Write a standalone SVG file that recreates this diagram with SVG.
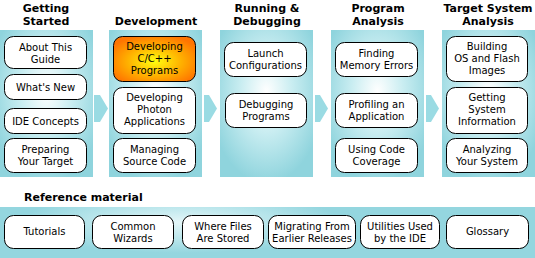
<svg xmlns="http://www.w3.org/2000/svg" width="535" height="258" viewBox="0 0 535 258">
<defs>
<radialGradient id="pg" cx="50%" cy="42%" r="62%">
<stop offset="0" stop-color="#ffffff"/>
<stop offset="0.45" stop-color="#c9edf1"/>
<stop offset="1" stop-color="#8fd4dd"/>
</radialGradient>
<radialGradient id="bg" cx="45%" cy="30%" r="60%" gradientTransform="translate(0.225 0.15) scale(0.5 1) translate(-0.225 -0.15)">
<stop offset="0" stop-color="#e4f6f8"/>
<stop offset="0.6" stop-color="#b5e4ea"/>
<stop offset="1" stop-color="#94d6df"/>
</radialGradient>
<radialGradient id="og" cx="50%" cy="55%" r="60%">
<stop offset="0" stop-color="#ffff10"/>
<stop offset="0.55" stop-color="#ffb000"/>
<stop offset="1" stop-color="#ff7400"/>
</radialGradient>
<style>
.panel{fill:url(#pg)}
.band{fill:url(#bg)}
.box{fill:#ffffff;stroke:#000000;stroke-width:1}
.hot{fill:url(#og);stroke:#000000;stroke-width:1}
.arrow{fill:#9adbe3}
text{font-family:"DejaVu Sans","Verdana",sans-serif;fill:#000000}
.hd{font-size:11px;font-weight:bold;text-anchor:middle}
.hl{font-size:11px;font-weight:bold}
.lb{font-size:10px;text-anchor:middle}
</style>
</defs>

<g id="headers">
<text class="hd" x="46" y="12">Getting</text>
<text class="hd" x="46" y="25">Started</text>
<text class="hd" x="156" y="25">Development</text>
<text class="hd" x="267" y="12">Running &amp;</text>
<text class="hd" x="267" y="25">Debugging</text>
<text class="hd" x="378" y="12">Program</text>
<text class="hd" x="378" y="25">Analysis</text>
<text class="hd" x="488" y="12">Target System</text>
<text class="hd" x="488" y="25">Analysis</text>
<text class="hl" x="24" y="201">Reference material</text>
</g>

<g id="panels">
<rect class="panel" x="0" y="30" width="93" height="147"/>
<rect class="panel" x="109" y="30" width="93" height="147"/>
<rect class="panel" x="220" y="30" width="93" height="147"/>
<rect class="panel" x="331" y="30" width="93" height="147"/>
<rect class="panel" x="442" y="30" width="93" height="147"/>
<rect class="band" x="0" y="207" width="535" height="51"/>
</g>

<g id="connectors">
<polygon class="arrow" points="94,95 100,95 108,108.5 100,122 94,122"/>
<polygon class="arrow" points="204,95 209,95 217,108.5 209,122 204,122"/>
<polygon class="arrow" points="315,95 320,95 328,108.5 320,122 315,122"/>
<polygon class="arrow" points="426,95 431,95 439,108.5 431,122 426,122"/>
</g>

<g id="n-about"><rect class="box" x="4.5" y="36.5" width="82" height="32" rx="9"/><text class="lb" x="45.5" y="51">About This</text><text class="lb" x="45.5" y="63">Guide</text></g>
<g id="n-whatsnew"><rect class="box" x="4.5" y="74.5" width="82" height="25" rx="9"/><text class="lb" x="45.5" y="91">What's New</text></g>
<g id="n-ide"><rect class="box" x="4.5" y="108.5" width="82" height="25" rx="9"/><text class="lb" x="45.5" y="125">IDE Concepts</text></g>
<g id="n-prep"><rect class="box" x="4.5" y="138.5" width="82" height="34" rx="9"/><text class="lb" x="45.5" y="153">Preparing</text><text class="lb" x="45.5" y="165">Your Target</text></g>

<g id="n-cpp"><rect class="hot" x="113.5" y="36.5" width="82" height="45" rx="9"/><text class="lb" x="154.5" y="50">Developing</text><text class="lb" x="154.5" y="62">C/C++</text><text class="lb" x="154.5" y="74">Programs</text></g>
<g id="n-photon"><rect class="box" x="113.5" y="87.5" width="82" height="46" rx="9"/><text class="lb" x="154.5" y="101">Developing</text><text class="lb" x="154.5" y="113">Photon</text><text class="lb" x="154.5" y="125">Applications</text></g>
<g id="n-source"><rect class="box" x="113.5" y="138.5" width="82" height="34" rx="9"/><text class="lb" x="154.5" y="153">Managing</text><text class="lb" x="154.5" y="165">Source Code</text></g>

<g id="n-launch"><rect class="box" x="224.5" y="42.5" width="82" height="34" rx="9"/><text class="lb" x="265.5" y="57">Launch</text><text class="lb" x="265.5" y="69">Configurations</text></g>
<g id="n-debug"><rect class="box" x="225.5" y="93.5" width="81" height="34" rx="9"/><text class="lb" x="266" y="108">Debugging</text><text class="lb" x="266" y="120">Programs</text></g>

<g id="n-memory"><rect class="box" x="335.5" y="42.5" width="82" height="34" rx="9"/><text class="lb" x="376.5" y="57">Finding</text><text class="lb" x="376.5" y="69">Memory Errors</text></g>
<g id="n-profile"><rect class="box" x="335.5" y="93.5" width="82" height="34" rx="9"/><text class="lb" x="376.5" y="108">Profiling an</text><text class="lb" x="376.5" y="120">Application</text></g>
<g id="n-coverage"><rect class="box" x="335.5" y="138.5" width="82" height="34" rx="9"/><text class="lb" x="376.5" y="153">Using Code</text><text class="lb" x="376.5" y="165">Coverage</text></g>

<g id="n-build"><rect class="box" x="446.5" y="36.5" width="81" height="45" rx="9"/><text class="lb" x="487" y="50">Building</text><text class="lb" x="487" y="62">OS and Flash</text><text class="lb" x="487" y="74">Images</text></g>
<g id="n-sysinfo"><rect class="box" x="446.5" y="87.5" width="81" height="46" rx="9"/><text class="lb" x="487" y="101">Getting</text><text class="lb" x="487" y="113">System</text><text class="lb" x="487" y="125">Information</text></g>
<g id="n-analyze"><rect class="box" x="446.5" y="138.5" width="81" height="34" rx="9"/><text class="lb" x="487" y="153">Analyzing</text><text class="lb" x="487" y="165">Your System</text></g>

<g id="n-tutorials"><rect class="box" x="4.5" y="215.5" width="80" height="33" rx="9"/><text class="lb" x="44.5" y="235">Tutorials</text></g>
<g id="n-wizards"><rect class="box" x="92.5" y="215.5" width="81" height="33" rx="9"/><text class="lb" x="133" y="230">Common</text><text class="lb" x="133" y="242">Wizards</text></g>
<g id="n-files"><rect class="box" x="182.5" y="215.5" width="81" height="33" rx="9"/><text class="lb" x="223" y="230">Where Files</text><text class="lb" x="223" y="242">Are Stored</text></g>
<g id="n-migrate"><rect class="box" x="268.5" y="215.5" width="87" height="33" rx="9"/><text class="lb" x="312" y="230">Migrating From</text><text class="lb" x="312" y="242">Earlier Releases</text></g>
<g id="n-utils"><rect class="box" x="360.5" y="215.5" width="79" height="33" rx="9"/><text class="lb" x="400" y="230">Utilities Used</text><text class="lb" x="400" y="242">by the IDE</text></g>
<g id="n-glossary"><rect class="box" x="446.5" y="215.5" width="82" height="33" rx="9"/><text class="lb" x="487.5" y="235">Glossary</text></g>
</svg>
